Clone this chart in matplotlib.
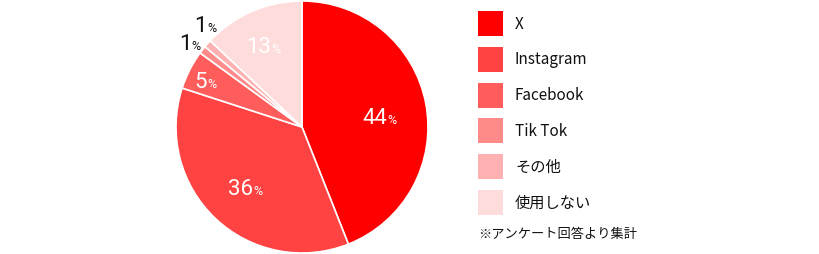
import numpy as np
import matplotlib.pyplot as plt

plt.rcParams['font.family'] = ['Noto Sans CJK JP', 'DejaVu Sans']

labels = ['X', 'Instagram', 'Facebook', 'Tik Tok', 'その他', '使用しない']
values = [44, 36, 5, 1, 1, 13]
colors = ['#FF0000', '#FF4242', '#FF5C5C', '#FF8A8A', '#FFB0B0', '#FFDCDC']
note = '※アンケート回答より集計'

# label placement per slice: (radius fraction, angle shift in deg, colour)
label_pos = [(0.65, -5, 'white'), (0.65, 3, 'white'), (0.86, 3, 'white'),
             (1.12, 2, '#111111'), (1.12, -4, '#111111'), (0.69, 0, 'white')]

fig = plt.figure(figsize=(8.2, 2.54), dpi=100)
ax = fig.add_axes([0, 0, 1, 1])

cx, cy, r = 302, 127, 126
wedges, _ = ax.pie(values, colors=colors, startangle=90, counterclock=False,
                   center=(cx, cy), radius=r,
                   wedgeprops=dict(edgecolor='white', linewidth=1.2))
ax.set_xlim(0, 820)
ax.set_ylim(0, 254)
ax.set_aspect('equal')
ax.axis('off')

for w, v, (rf, da, c) in zip(wedges, values, label_pos):
    ang = np.deg2rad((w.theta1 + w.theta2) / 2 + da)
    x = cx + rf * r * np.cos(ang)
    y = cy + rf * r * np.sin(ang)
    ax.text(x + 4, y, str(v), ha='right', va='center', fontsize=16,
            color=c, family=['Roboto', 'DejaVu Sans'])
    ax.text(x + 4, y - 2, '%', ha='left', va='center', fontsize=9,
            color=c, family=['Roboto', 'DejaVu Sans'])

# legend
for i, (lab, col) in enumerate(zip(labels, colors)):
    ytop = 254 - 11 - i * 35.8
    ax.add_patch(plt.Rectangle((478, ytop - 25), 25, 25, color=col, lw=0))
    ax.text(515, ytop - 13, lab, ha='left', va='center', fontsize=11,
            color='#111111')

ax.text(478, 254 - 235, note, ha='left', va='center', fontsize=9.5,
        color='#111111')

fig.savefig('out.png', dpi=100)
